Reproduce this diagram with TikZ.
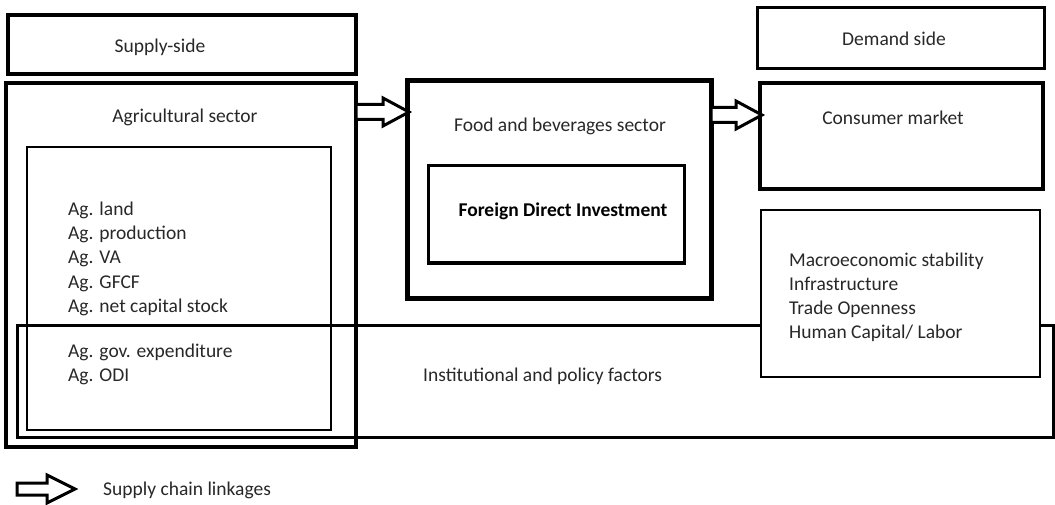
\documentclass[tikz,border=0pt]{standalone}
\usepackage{fontspec}
\setmainfont{Carlito}
\usetikzlibrary{calc}
\definecolor{txtc}{RGB}{40,40,40}
\begin{document}
\begin{tikzpicture}[x=1pt,y=-1pt,
  box/.style={draw=black, anchor=north west, inner sep=0pt, outer sep=0pt},
  txt/.style={text=txtc, font=\fontsize{19.5}{24}\selectfont, inner sep=0pt},
  blockarrow/.style n args={3}{draw=black, line width=3pt, fill=white, line join=miter,
    to path={let \p1=(\tikztostart), \p2=(\tikztotarget) in
      (\x1,\y2+#3) -- (\x2-#1,\y2+#3) -- (\x2-#1,\y2+#2) -- (\x2,\y2)
      -- (\x2-#1,\y2-#2) -- (\x2-#1,\y2-#3) -- (\x1,\y2-#3) -- cycle}}]
\fill[white] (0,0) rectangle (1055,505);
\useasboundingbox (0,0) rectangle (1055,505);

% boxes
\node[box, line width=3.5pt, minimum width=348pt, minimum height=59pt] (supply) at (8,15) {};
\node[box, line width=3.5pt, minimum width=350pt, minimum height=364pt] (ag) at (6,83) {};
\node[box, line width=1.4pt, minimum width=304pt, minimum height=283pt] (inner) at (27,147) {};
\node[box, line width=3pt, minimum width=1036pt, minimum height=112pt] (inst) at (17,325) {};
\node[box, line width=1.8pt, fill=white, minimum width=279pt, minimum height=167pt] (macro) at (761,210) {};
\node[box, line width=5pt, minimum width=304pt, minimum height=217pt] (food) at (407,81) {};
\node[box, line width=3pt, minimum width=256pt, minimum height=97pt] (fdi) at (428,166) {};
\node[box, line width=3pt, minimum width=287pt, minimum height=61pt] (demand) at (757,8) {};
\node[box, line width=3.5pt, minimum width=283pt, minimum height=106pt] (consumer) at (760,83) {};

% texts
\node[txt, anchor=base] (tsupply) at (160,53) {Supply-side};
\node[txt, anchor=base] (tag) at (185,123) {Agricultural sector};
\foreach \t [count=\i] in {Ag. land, Ag. production, Ag. VA, Ag. GFCF, Ag. net capital stock}
  \node[txt, anchor=base west] (agl\i) at (68,{216+24*(\i-1)}) {\t};
\node[txt, anchor=base west] (agg1) at (68,357) {Ag. gov. expenditure};
\node[txt, anchor=base west] (agg2) at (68,381) {Ag. ODI};
\node[txt, anchor=base west] (tinst) at (423,381) {Institutional and policy factors};
\node[txt, anchor=base] (tfood) at (560,132) {Food and beverages sector};
\node[txt, anchor=base, text=black, font=\fontsize{19.5}{24}\selectfont\bfseries] (tfdi) at (563,217) {Foreign Direct Investment};
\node[txt, anchor=base] (tdemand) at (894,46) {Demand side};
\node[txt, anchor=base] (tconsumer) at (893,125) {Consumer market};
\foreach \t [count=\i] in {Macroeconomic stability, Infrastructure, Trade Openness, Human Capital/ Labor}
  \node[txt, anchor=base west] (mac\i) at (789,{266+24*(\i-1)}) {\t};

% connectors
\draw[blockarrow={26pt}{14pt}{7.5pt}] (ag.east) to ($(food.north west)+(2,31)$);
\draw[blockarrow={26pt}{14pt}{7.5pt}] (food.east) to ($(consumer.north west)+(2,32)$);

% legend
\coordinate (legA) at (17,489);
\coordinate (legB) at (75,489);
\draw[blockarrow={28pt}{14pt}{6pt}] (legA) to (legB);
\node[txt, anchor=base west] (tleg) at (103,495) {Supply chain linkages};
\end{tikzpicture}
\end{document}
